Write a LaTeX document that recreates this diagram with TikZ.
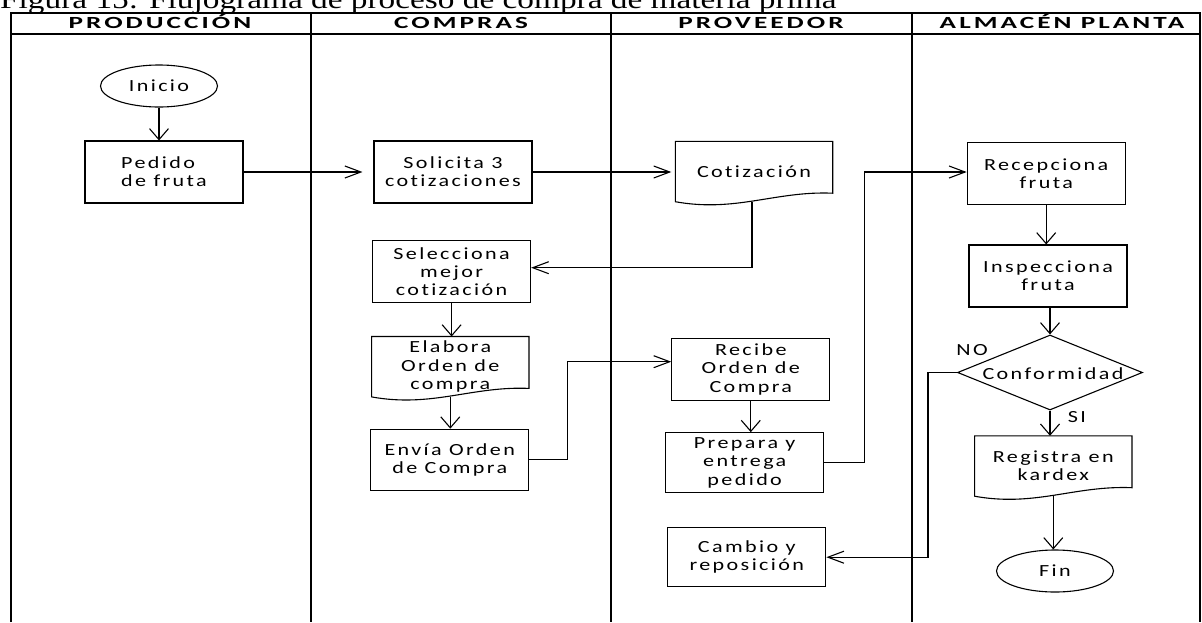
\documentclass[tikz,border=0pt]{standalone}
\usepackage{fontspec}
\setmainfont{Carlito}
\newfontfamily\nodefont{Carlito}[FakeStretch=1.3,LetterSpace=14,Ligatures=NoCommon]
\newfontfamily\headfont{Carlito}[FakeStretch=1.6,LetterSpace=18,Ligatures=NoCommon]
\newfontfamily\titlefont{Liberation Serif}[FakeStretch=1.234]
\usetikzlibrary{shapes.geometric,arrows.meta,calc}
\tikzset{
  lane/.style={line width=2pt},
  box/.style={line width=1.1pt},
  txt/.style={font=\nodefont\fontsize{17}{18.3}\selectfont, align=center, inner sep=0pt},
  proc/.style={txt, draw, box, rectangle, minimum width=158pt, minimum height=62pt},
  docnode/.style={txt, minimum width=157pt, minimum height=60pt},
  term/.style={txt, draw, box, ellipse, minimum width=117pt, minimum height=42pt},
  decis/.style={draw, box, diamond, minimum width=185pt, minimum height=75pt, inner sep=0pt},
  head/.style={font=\headfont\bfseries\fontsize{17}{18}\selectfont, inner sep=0pt, anchor=base},
  conn/.style={line width=1.1pt},
  arrh/.style={conn, -{Straight Barb[length=16pt,width=12pt]}},
  arrv/.style={conn, -{Straight Barb[length=11pt,width=19pt]}},
}
\newcommand\docoutline[1]{%
  \draw[box] (#1.south west) -- (#1.north west) -- (#1.north east)
    -- ($(#1.south east)+(0,-8.5)$)
    .. controls ($(#1.south east)+(-57,-11)$) and ($(#1.south east)+(-97,11)$) ..
    (#1.south west) -- cycle;}
\begin{document}
\begin{tikzpicture}[x=1pt,y=-1pt]
\useasboundingbox (0,0) rectangle (1202,622);
% title
\node[anchor=base west, inner sep=0pt, font=\titlefont\fontsize{27}{30}\selectfont] (title) at (0,8)
  {Figura 15: Flujograma de proceso de compra de materia prima};
% table
\draw[lane] (11,622) -- (11,12.5) -- (1200,12.5) -- (1200,622);
\draw[lane] (11,33.5) -- (1200,33.5);
\draw[lane] (311,12.5) -- (311,622);
\draw[lane] (611,12.5) -- (611,622);
\draw[lane] (912,12.5) -- (912,622);
\node[head] (h1) at (160,28.5) {PRODUCCIÓN};
\node[head] (h2) at (461,28.5) {COMPRAS};
\node[head] (h3) at (761,28.5) {PROVEEDOR};
\node[head] (h4) at (1062,28.5) {ALMACÉN PLANTA};
% nodes
\node[term] (inicio) at (159,86) {Inicio};
\node[proc, align=left] (pedido) at (164,172) {Pedido\\de fruta};
\node[proc] (solicita) at (453,172) {Solicita 3\\cotizaciones};
\node[docnode] (cotiz) at (754,171.5) {Cotización};
\node[proc] (selecciona) at (451.6,271.7) {Selecciona\\mejor\\cotización};
\node[docnode] (elabora) at (450.3,366.7) {Elabora\\Orden de\\compra};
\node[proc, minimum height=61pt] (envia) at (449.7,459.7) {Envía Orden\\de Compra};
\node[proc] (recibe) at (750.8,369.2) {Recibe\\Orden de\\Compra};
\node[proc, minimum height=60pt] (prepara) at (744.7,462.7) {Prepara y\\entrega\\pedido};
\node[proc, minimum height=59pt] (cambio) at (746.8,557.2) {Cambio y\\reposición};
\node[proc] (recepciona) at (1046.2,173.5) {Recepciona\\fruta};
\node[proc] (inspecciona) at (1048,276) {Inspecciona\\fruta};
\node[decis] (conf) at (1050,372.5) {};
\node[txt] (conftxt) at (1053,374) {Conformidad};
\node[docnode] (registra) at (1053.3,466) {Registra en\\kardex};
\node[term] (fin) at (1055,571) {Fin};
\docoutline{cotiz}
\docoutline{elabora}
\docoutline{registra}
% labels
\node[txt] (nolab) at (972,350) {NO};
\node[txt] (silab) at (1077,417) {SI};
% connectors
\draw[arrv] (inicio.south) -- (inicio.south |- pedido.north);
\draw[arrh, shorten >=11pt] (pedido.east) -- (pedido.east -| solicita.west);
\draw[arrh, shorten >=4pt] (solicita.east) -- (solicita.east -| cotiz.west);
\draw[arrh] ([xshift=-2pt]cotiz.south) |- ([yshift=4pt]selecciona.east);
\draw[arrv] (selecciona.south) -- (selecciona.south |- elabora.north);
\draw[arrv] (elabora.south) -- (elabora.south |- envia.north);
\draw[arrh] (envia.east) -- ++(38,0) |- ([yshift=7.5pt]recibe.west);
\draw[arrv] (recibe.south) -- (recibe.south |- prepara.north);
\draw[arrh] (prepara.east) -- ++(40,0) |- ([yshift=1.5pt]recepciona.west);
\draw[arrv] (recepciona.south) -- (recepciona.south |- inspecciona.north);
\draw[arrv] (conf.north |- inspecciona.south) -- (conf.north);
\draw[arrv] (conf.south) -- (conf.south |- registra.north);
\draw[arrv] (registra.south) -- (registra.south |- fin.north);
\draw[arrh] (conf.west) -- ++(-29,0) |- (cambio.east);
\end{tikzpicture}
\end{document}
